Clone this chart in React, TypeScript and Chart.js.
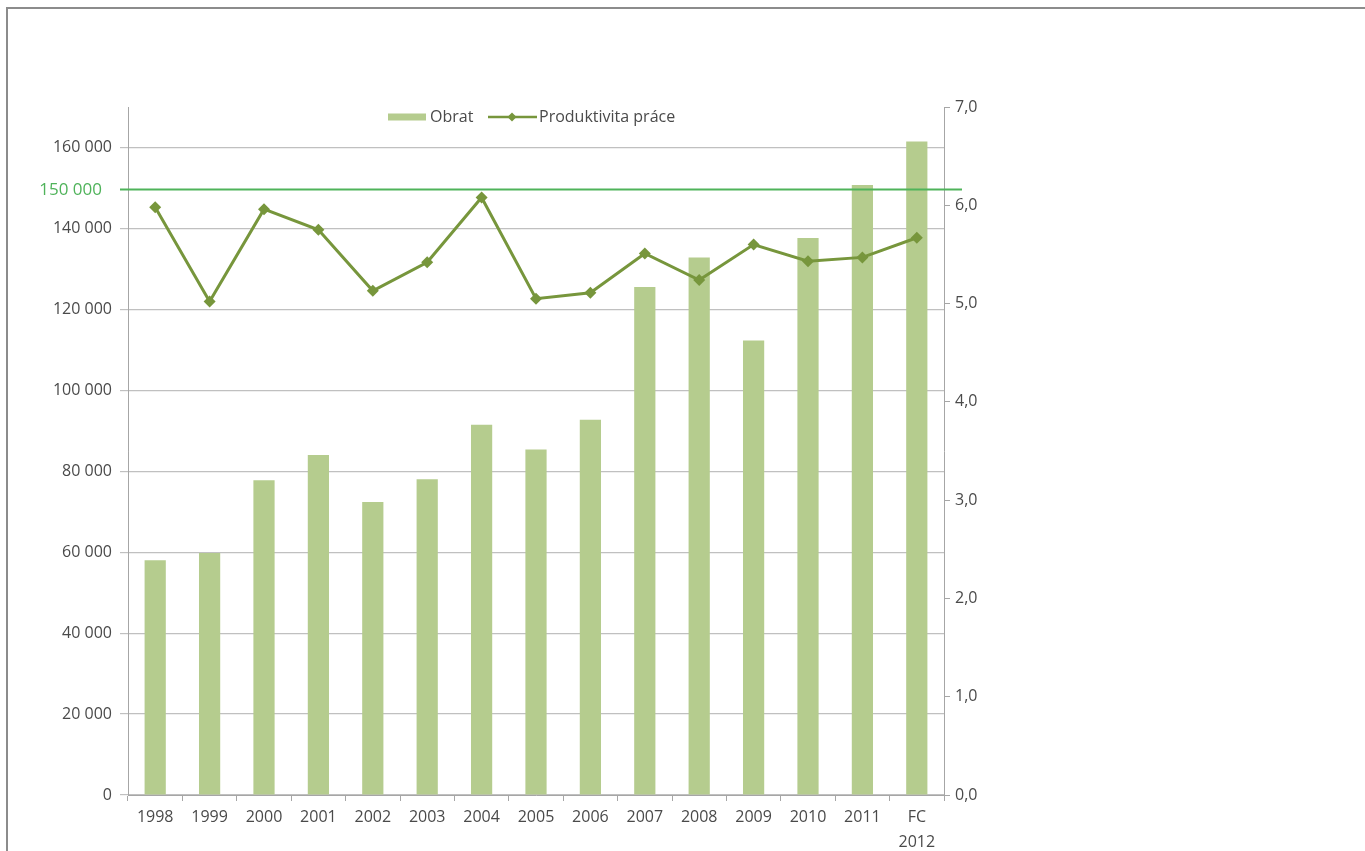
import React, { useEffect, useRef } from "react";
import { Chart, registerables } from "chart.js";

Chart.register(...registerables);

const categories: (string | string[])[] = [
  "1998", "1999", "2000", "2001", "2002", "2003", "2004", "2005",
  "2006", "2007", "2008", "2009", "2010", "2011", ["FC", "2012"],
];
const obrat = [
  58000, 59800, 77800, 84000, 72400, 78000, 91500, 85400,
  92700, 125500, 132800, 112300, 137600, 150700, 161500,
];
const produktivita = [
  5.98, 5.02, 5.96, 5.75, 5.13, 5.42, 6.08, 5.05,
  5.11, 5.51, 5.24, 5.6, 5.43, 5.47, 5.67,
];
const targetValue = 150000;
const targetLabel = "150 000";
const seriesNames = ["Obrat", "Produktivita práce"];

const FONT = "'Open Sans', sans-serif";
const BAR_COLOR = "#B5CC8E";
const LINE_COLOR = "#77963C";
const TARGET_COLOR = "#4FB35A";
const TEXT_COLOR = "#4A4A4A";

const fmtThousands = (v: number) =>
  String(Math.round(v)).replace(/\B(?=(\d{3})+(?!\d))/g, " ");

const extrasPlugin = {
  id: "extras",
  afterDatasetsDraw(chart: any) {
    const ctx = chart.ctx;
    const y = chart.scales.y;
    const ca = chart.chartArea;
    const ty = y.getPixelForValue(targetValue) + 1.5;
    ctx.save();
    ctx.strokeStyle = TARGET_COLOR;
    ctx.lineWidth = 2;
    ctx.beginPath();
    ctx.moveTo(ca.left - 8, ty);
    ctx.lineTo(ca.right + 18, ty);
    ctx.stroke();
    ctx.fillStyle = TARGET_COLOR;
    ctx.font = `17px ${FONT}`;
    ctx.textAlign = "right";
    ctx.textBaseline = "middle";
    ctx.fillText(targetLabel, ca.left - 26, ty + 1);

    // legend
    const ly = 117;
    ctx.font = `16px ${FONT}`;
    ctx.textAlign = "left";
    ctx.fillStyle = BAR_COLOR;
    ctx.fillRect(388, ly - 3.5, 38, 7);
    ctx.fillStyle = TEXT_COLOR;
    ctx.fillText(seriesNames[0], 430, ly);
    ctx.strokeStyle = LINE_COLOR;
    ctx.lineWidth = 2.5;
    ctx.beginPath();
    ctx.moveTo(488, ly);
    ctx.lineTo(537, ly);
    ctx.stroke();
    ctx.fillStyle = LINE_COLOR;
    ctx.beginPath();
    ctx.moveTo(512, ly - 4.5);
    ctx.lineTo(516.5, ly);
    ctx.lineTo(512, ly + 4.5);
    ctx.lineTo(507.5, ly);
    ctx.closePath();
    ctx.fill();
    ctx.fillStyle = TEXT_COLOR;
    ctx.fillText(seriesNames[1], 539, ly);
    ctx.restore();
  },
};

export default function App() {
  const ref = useRef<HTMLCanvasElement | null>(null);
  useEffect(() => {
    if (!ref.current) return;
    const chart = new Chart(ref.current, {
      type: "bar",
      data: {
        labels: categories as any,
        datasets: [
          {
            type: "line",
            label: seriesNames[1],
            data: produktivita,
            yAxisID: "y1",
            borderColor: LINE_COLOR,
            backgroundColor: LINE_COLOR,
            borderWidth: 3,
            pointStyle: "rectRot",
            pointRadius: 6,
            pointBorderWidth: 0,
            pointBackgroundColor: LINE_COLOR,
            tension: 0,
            order: 0,
          } as any,
          {
            type: "bar",
            label: seriesNames[0],
            data: obrat,
            yAxisID: "y",
            backgroundColor: BAR_COLOR,
            categoryPercentage: 1,
            barPercentage: 0.39,
            order: 1,
          } as any,
        ],
      },
      options: {
        animation: false,
        responsive: false,
        maintainAspectRatio: false,
        layout: { padding: { top: 107, left: 0, right: 0, bottom: 0 } },
        plugins: { legend: { display: false }, tooltip: { enabled: false } },
        scales: {
          x: {
            offset: true,
            grid: {
              offset: true,
              drawOnChartArea: false,
              drawTicks: true,
              tickLength: 6,
              color: "#A6A6A6",
            },
            border: { display: true, color: "#A6A6A6" },
            ticks: {
              color: TEXT_COLOR,
              font: { family: FONT, size: 16, lineHeight: 1.55 },
              padding: 4,
              maxRotation: 0,
              autoSkip: false,
            },
            afterFit: (s: any) => {
              s.height = 56;
            },
          },
          y: {
            position: "left",
            min: 0,
            max: 170000,
            ticks: {
              stepSize: 10000,
              color: TEXT_COLOR,
              font: { family: FONT, size: 16 },
              padding: 8,
              callback: (v: any) =>
                Number(v) % 20000 === 0 && Number(v) <= 160000
                  ? fmtThousands(Number(v))
                  : "",
            },
            grid: {
              color: (c: any) =>
                c.tick && c.tick.value % 20000 === 0 && c.tick.value <= 160000
                  ? "#C0C0C0"
                  : "rgba(0,0,0,0)",
              tickLength: 8,
              lineWidth: 1.2,
            },
            border: { display: true, color: "#A6A6A6" },
            afterFit: (s: any) => {
              s.width = 128;
            },
          },
          y1: {
            position: "right",
            min: 0,
            max: 7,
            ticks: {
              stepSize: 1,
              color: TEXT_COLOR,
              font: { family: FONT, size: 16 },
              padding: 5,
              callback: (v: any) => Number(v).toFixed(1).replace(".", ","),
            },
            grid: {
              drawOnChartArea: false,
              drawTicks: true,
              tickLength: 6,
              color: "#A6A6A6",
            },
            border: { display: true, color: "#A6A6A6" },
            afterFit: (s: any) => {
              s.width = 1365 - 944;
            },
          },
        },
      } as any,
      plugins: [extrasPlugin],
    });
    return () => chart.destroy();
  }, []);

  return (
    <div
      style={{
        position: "absolute",
        left: 0,
        top: 0,
        width: 1365,
        height: 851,
        background: "#fff",
        overflow: "hidden",
      }}
    >
      <div
        style={{
          position: "absolute",
          left: 6,
          top: 7,
          width: 1365,
          height: 900,
          borderTop: "2px solid #8C8C8C",
          borderLeft: "2px solid #8C8C8C",
        }}
      />
      <canvas
        ref={ref}
        width={1365}
        height={851}
        style={{ position: "absolute", left: 0, top: 0, width: 1365, height: 851 }}
      />
    </div>
  );
}
